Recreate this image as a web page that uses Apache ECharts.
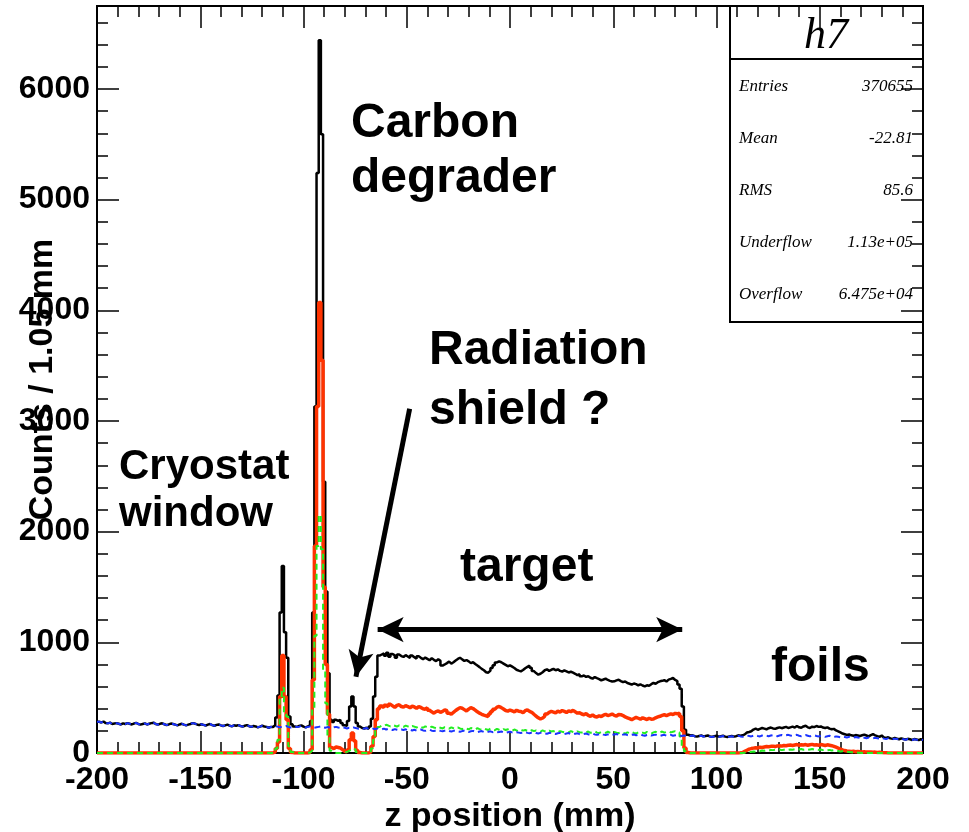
<!DOCTYPE html>
<html><head><meta charset="utf-8">
<script src="https://cdn.jsdelivr.net/npm/echarts@6/dist/echarts.min.js"></script>
<style>html,body{margin:0;padding:0;background:#fff}#c{width:969px;height:832px}</style>
</head><body><div id="c"></div>
<script>
const X_MIN = -200, X_MAX = 200;
const Y_MIN = 0, Y_MAX = 6750;
const xTickStep = 50, yTickStep = 1000, yMinorStep = 200;

const blueCounts = [
282,276,284,270,268,274,262,266,270,264,
258,268,262,270,264,258,266,272,262,256,
262,268,258,264,270,274,262,256,264,268,
260,252,258,266,262,256,250,258,264,256,
250,256,262,270,266,258,252,260,254,248,
256,262,252,246,254,258,250,244,250,256,
248,240,250,246,252,244,238,246,252,242,
236,244,240,232,238,246,240,236,228,236,
240,244,238,232,236,240,244,236,230,236,
240,234,238,244,236,230,236,240,234,228,
232,236,240,232,228,234,230,226,232,236,
230,226,232,228,222,228,224,230,226,220,
224,218,222,226,218,214,220,216,222,218,
214,220,212,218,214,208,216,210,206,212,
208,214,206,210,204,210,202,208,212,204,
200,206,210,202,198,204,208,200,196,202,
206,198,194,200,204,196,192,198,202,194,
190,196,200,192,188,194,198,190,186,192,
196,188,192,186,190,194,186,182,188,192,
186,182,188,184,180,186,190,182,178,184,
188,180,176,182,186,178,174,180,184,176,
172,178,182,174,170,176,180,172,168,174,
178,170,166,172,176,168,172,176,168,164,
170,174,166,162,168,172,164,168,172,164,
160,166,170,162,158,164,168,160,164,168,
160,156,162,166,158,162,166,158,154,160,
164,156,160,164,156,160,162,158,154,158,
156,150,154,158,150,146,152,156,148,152,
156,148,144,150,154,146,150,154,146,142,
148,152,146,150,156,150,146,152,158,154,
150,156,160,154,150,158,162,156,152,158,
162,156,152,158,162,156,160,164,158,154,
160,164,156,152,158,162,156,150,156,160,
154,150,156,152,146,152,156,148,144,150,
146,142,148,144,140,146,142,138,144,140,
136,142,138,134,140,136,132,138,134,130,
136,130,126,132,128,124,130,126,122,128,
124,120,126,122,118,124,120,116,122,118];

const blackCounts = [
282,276,284,270,268,274,262,266,270,264,
258,268,262,270,264,258,266,272,262,256,
262,268,258,264,270,274,262,256,264,268,
260,252,258,266,262,256,250,258,264,256,
250,256,262,270,266,258,252,260,254,248,
256,262,252,246,254,258,250,244,250,256,
248,240,250,246,252,244,238,246,252,242,
236,244,240,232,238,246,240,236,228,236,
236,250,320,520,1270,1690,1090,860,330,260,
240,236,244,250,238,232,240,250,290,1270,
3130,5240,6440,5590,2450,1460,720,300,280,300,
290,300,270,250,245,290,420,510,420,270,
240,226,222,228,218,240,310,510,690,880,
890,900,878,905,870,895,882,860,890,876,
868,884,872,858,880,866,852,874,860,848,
862,850,838,856,842,830,848,834,790,800,
812,826,808,820,836,850,861,846,832,840,
828,812,820,804,790,776,760,748,730,726,
744,768,792,818,828,820,808,796,784,792,
780,768,752,744,738,750,766,778,789,770,
740,722,708,716,730,748,756,742,752,760,
748,756,742,736,747,738,728,734,726,716,
704,712,693,700,688,694,680,672,686,676,
668,657,664,672,660,652,646,648,656,662,
650,640,646,632,626,618,628,622,612,620,
610,602,612,608,622,633,626,640,648,652,
658,646,663,670,678,660,650,620,580,420,
210,165,158,160,152,148,154,158,150,154,
158,150,146,152,156,148,152,156,148,144,
150,154,148,152,160,156,160,168,185,190,
196,212,220,210,218,226,220,214,224,230,
222,218,226,232,224,230,236,226,232,238,
230,244,232,228,240,246,232,226,238,234,
244,236,240,230,226,232,220,214,218,204,
196,186,176,170,164,168,160,156,162,158,
154,160,166,158,150,162,170,160,152,146,
158,140,136,142,132,128,136,130,124,132,
126,122,128,124,118,126,122,116,124,120];

const redCounts = [
0,0,0,0,0,0,0,0,0,0,
0,0,0,0,0,0,0,0,0,0,
0,0,0,0,0,0,0,0,0,0,
0,0,0,0,0,0,0,0,0,0,
0,0,0,0,0,0,0,0,0,0,
0,0,0,0,0,0,0,0,0,0,
0,0,0,0,0,0,0,0,0,0,
0,0,0,0,0,0,0,0,0,0,
0,10,40,100,510,880,510,300,40,5,
0,0,0,0,0,0,0,5,30,660,
1870,3130,4070,3550,1500,800,350,50,40,55,
50,45,30,15,10,30,120,180,110,25,
5,0,0,0,0,10,60,150,300,400,
425,410,432,418,440,426,412,430,436,420,
414,428,420,408,424,416,404,420,412,400,
396,410,386,372,360,374,380,368,376,390,
382,360,350,368,384,398,410,404,392,380,
396,410,402,388,372,360,350,342,336,330,
352,374,396,414,420,410,398,384,378,388,
380,372,386,378,376,364,382,390,376,368,
350,334,318,307,316,332,352,368,376,370,
362,378,370,384,376,366,380,374,385,372,
360,364,352,346,356,340,332,344,330,325,
336,330,342,350,338,344,352,340,334,348,
346,338,326,318,310,301,312,322,314,306,
318,310,302,314,306,307,318,326,332,340,
346,338,346,354,348,358,354,360,330,200,
45,5,0,0,0,0,0,0,0,0,
0,0,0,0,0,0,0,0,0,0,
0,0,0,0,0,2,5,15,25,35,
40,44,48,46,52,50,54,58,56,60,
62,58,64,66,62,68,66,70,72,68,
72,76,70,74,72,76,70,74,78,72,
74,70,76,72,68,74,70,66,60,52,
44,36,28,22,18,16,14,16,12,14,
12,10,12,8,10,8,6,8,5,6,
4,3,2,0,0,0,0,0,0,0,
0,0,0,0,0,0,0,0,0,0];

const greenCounts = [
0,0,0,0,0,0,0,0,0,0,
0,0,0,0,0,0,0,0,0,0,
0,0,0,0,0,0,0,0,0,0,
0,0,0,0,0,0,0,0,0,0,
0,0,0,0,0,0,0,0,0,0,
0,0,0,0,0,0,0,0,0,0,
0,0,0,0,0,0,0,0,0,0,
0,0,0,0,0,0,0,0,0,0,
0,10,40,120,500,590,350,330,60,10,
0,0,0,0,0,0,0,5,20,400,
1060,1870,2150,1840,750,450,150,20,5,0,
0,0,0,5,10,20,30,45,30,10,
5,0,0,0,0,5,40,120,200,235,
250,245,255,248,240,252,246,238,250,244,
236,248,240,232,244,238,230,242,236,228,
240,232,226,238,230,224,236,228,222,234,
226,220,232,224,218,230,222,216,228,220,
214,226,218,212,224,216,210,222,214,208,
220,212,206,218,210,204,216,208,214,206,
200,212,204,198,210,202,208,200,194,206,
198,204,196,192,204,196,190,202,194,198,
190,186,198,192,188,194,186,198,190,184,
196,188,184,192,186,194,182,188,196,184,
180,190,186,182,192,184,178,190,184,180,
188,182,176,186,180,190,182,176,186,180,
184,178,190,182,176,186,192,180,186,194,
184,190,196,186,192,198,190,186,150,60,
15,0,0,0,0,0,0,0,0,0,
0,0,0,0,0,0,0,0,0,0,
0,0,0,0,0,0,0,3,5,8,
10,14,12,18,16,22,20,26,22,28,
26,30,28,32,26,30,34,28,32,30,
34,28,32,36,30,34,28,32,36,30,
34,28,32,26,30,24,28,22,26,20,
18,14,16,10,12,8,6,4,5,3,
2,0,0,0,0,0,0,0,0,0,
0,0,0,0,0,0,0,0,0,0,
0,0,0,0,0,0,0,0,0,0];

const statNames = ['Entries', 'Mean', 'RMS', 'Underflow', 'Overflow'];
const statValues = ['370655', '-22.81', '85.6', '1.13e+05', '6.475e+04'];
const histTitle = 'h7';
const xTitle = 'z position (mm)';
const yTitle = 'Counts / 1.05 mm';

function histPoints(counts) {
  const w = (X_MAX - X_MIN) / counts.length;
  const pts = counts.map((v, i) => [X_MIN + i * w, v]);
  pts.push([X_MAX, counts[counts.length - 1]]);
  return pts;
}

const SANS = '"Liberation Sans", Arial, Helvetica, sans-serif';
const SERIF = '"Liberation Serif", "Times New Roman", serif';
const frameLine = { show: true, onZero: false, lineStyle: { color: '#000', width: 2 } };
const tickStyle = { color: '#000', width: 1.5 };
const plainFmt = v => String(Math.round(v));

function xAx(pos, withLabels) {
  return {
    type: 'value', min: X_MIN, max: X_MAX, interval: xTickStep, position: pos, z: 3,
    axisLine: frameLine,
    axisTick: { show: true, inside: true, length: 22, lineStyle: tickStyle },
    minorTick: { show: true, splitNumber: 5, length: 11, lineStyle: tickStyle },
    splitLine: { show: false }, minorSplitLine: { show: false },
    axisLabel: withLabels ? { show: true, formatter: plainFmt, color: '#000', fontSize: 32, fontWeight: 'bold', fontFamily: SANS, margin: 11, hideOverlap: false } : { show: false },
    name: withLabels ? xTitle : '', nameLocation: 'middle', nameGap: 47, nameMoveOverlap: false,
    nameTextStyle: { color: '#000', fontSize: 34, fontWeight: 'bold', fontFamily: SANS }
  };
}
function yAx(pos, step, len, withLabels) {
  return {
    type: 'value', min: Y_MIN, max: Y_MAX, interval: step, position: pos, z: 3,
    axisLine: frameLine,
    axisTick: { show: true, inside: true, length: len, lineStyle: tickStyle },
    splitLine: { show: false },
    axisLabel: withLabels ? { show: true, formatter: plainFmt, color: '#000', fontSize: 32, fontWeight: 'bold', fontFamily: SANS, margin: 7, showMaxLabel: false, hideOverlap: false } : { show: false },
    name: withLabels ? yTitle : '', nameLocation: 'middle', nameGap: 37, nameRotate: 90, nameMoveOverlap: false,
    nameTextStyle: { color: '#000', fontSize: 34, fontWeight: 'bold', fontFamily: SANS }
  };
}
function hist(name, counts, color, width, dashed, z, extra) {
  return Object.assign({
    type: 'line', name, data: histPoints(counts), step: 'end', symbol: 'none', showSymbol: false,
    lineStyle: { color, width, type: dashed ? [6, 4] : 'solid' }, z, silent: true, clip: true
  }, extra || {});
}

function annot(text, x, y, size) {
  return { type: 'text', x, y, z: 20, style: { text, font: 'bold ' + size + 'px ' + SANS, fill: '#000', textAlign: 'left', align: 'left', textVerticalAlign: 'middle', verticalAlign: 'middle' } };
}

const graphics = [
  { type: 'rect', z: 1, shape: { x: 730, y: 6, width: 193, height: 316 }, style: { fill: '#fff', stroke: '#000', lineWidth: 2 } },
  { type: 'line', z: 1, shape: { x1: 730, y1: 59, x2: 923, y2: 59 }, style: { stroke: '#000', lineWidth: 2 } },
  { type: 'text', z: 2, x: 826, y: 36, style: { text: histTitle, font: 'italic 44px ' + SERIF, fill: '#000', textAlign: 'center', align: 'center', textVerticalAlign: 'middle', verticalAlign: 'middle' } }
];
statNames.forEach((n, i) => {
  const y = 87 + i * 51.8;
  graphics.push({ type: 'text', z: 2, x: 739, y, style: { text: n, font: 'italic 17px ' + SERIF, fill: '#000', textAlign: 'left', align: 'left', textVerticalAlign: 'middle', verticalAlign: 'middle' } });
  graphics.push({ type: 'text', z: 2, x: 913, y, style: { text: statValues[i], font: 'italic 17px ' + SERIF, fill: '#000', textAlign: 'right', align: 'right', textVerticalAlign: 'middle', verticalAlign: 'middle' } });
});
graphics.push(annot('Carbon', 351, 124, 48));
graphics.push(annot('degrader', 351, 179, 48));
graphics.push(annot('Radiation', 429, 351, 48));
graphics.push(annot('shield ?', 429, 411, 48));
graphics.push(annot('Cryostat', 119, 467, 42));
graphics.push(annot('window', 119, 514, 42));
graphics.push(annot('target', 460, 568, 48));
graphics.push(annot('foils', 771, 668, 48));

const arrowLines = {
  silent: true, animation: false, label: { show: false },
  symbolSize: [19, 26],
  lineStyle: { color: '#000', width: 5, type: 'solid' },
  emphasis: { disabled: true },
  data: [
    [{ coord: [-64.1, 1115], symbol: 'arrow' }, { coord: [83.4, 1115], symbol: 'arrow' }],
    [{ coord: [-48.6, 3110], symbol: 'none' }, { coord: [-74.6, 690], symbol: 'arrow' }]
  ]
};

const chart = echarts.init(document.getElementById('c'), null, { renderer: 'canvas' });
chart.setOption({
  animation: false,
  backgroundColor: '#fff',
  grid: { left: 97, right: 46, top: 6, bottom: 79, containLabel: false, outerBoundsMode: 'none' },
  xAxis: [xAx('bottom', true), xAx('top', false)],
  yAxis: [yAx('left', yTickStep, 22, true), yAx('right', yTickStep, 22, false), yAx('left', yMinorStep, 11, false), yAx('right', yMinorStep, 11, false)],
  graphic: graphics,
  series: [
    hist('total', blackCounts, '#000000', 2.5, false, 5, { markLine: arrowLines }),
    hist('red', redCounts, '#ff3300', 3.5, false, 6),
    hist('green', greenCounts, '#22ee22', 2, true, 7),
    hist('blue', blueCounts, '#1a33ff', 2, true, 8)
  ]
});
</script></body></html>
